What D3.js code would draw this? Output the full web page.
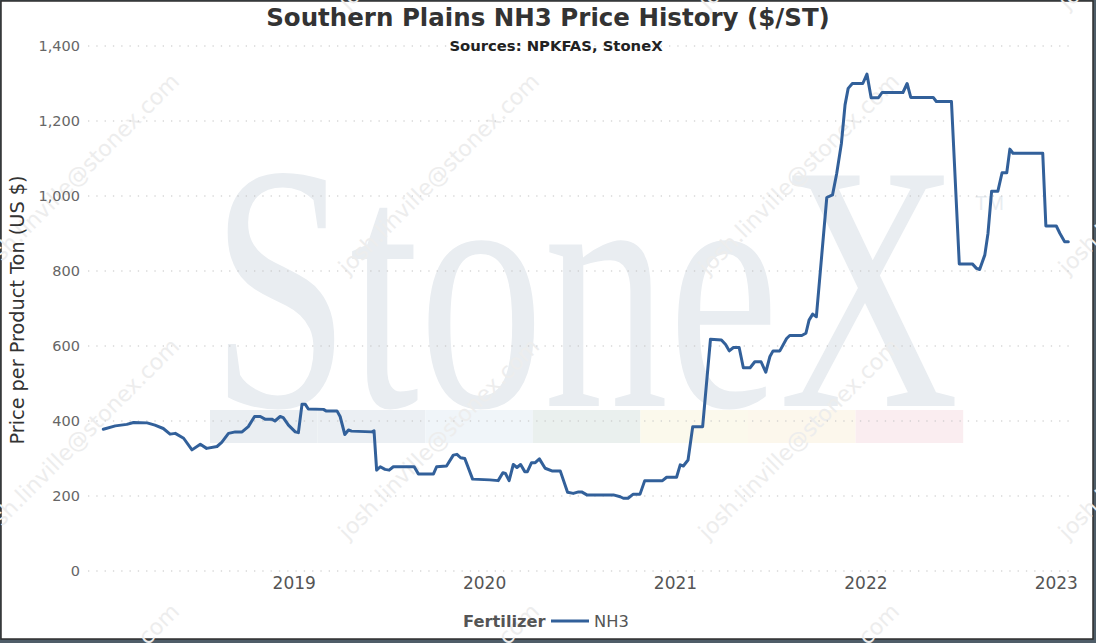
<!DOCTYPE html>
<html>
<head>
<meta charset="utf-8">
<script src="https://cdn.jsdelivr.net/npm/d3@7"></script>
<style>
  html, body { margin: 0; padding: 0; background: #4f5d68; }
  svg { display: block; }
</style>
</head>
<body>
<div id="chart"></div>
<script>
// NH3 price, Southern Plains, $/short ton
const dates = [
  "2018-01-01","2018-01-24","2018-02-15","2018-02-28","2018-03-26","2018-04-10","2018-04-26","2018-05-09","2018-05-19","2018-06-04",
  "2018-06-20","2018-07-06","2018-07-18","2018-08-07","2018-08-16","2018-08-29","2018-09-11","2018-09-24","2018-10-06","2018-10-18",
  "2018-10-29","2018-11-07","2018-11-20","2018-11-26","2018-12-06","2018-12-12","2018-12-22",
  "2019-01-04","2019-01-10","2019-01-17","2019-01-23","2019-01-29","2019-02-27","2019-03-04","2019-03-25","2019-03-31","2019-04-09",
  "2019-04-16","2019-04-22","2019-05-31","2019-06-04","2019-06-09","2019-06-16","2019-06-25","2019-07-03","2019-07-11","2019-08-20",
  "2019-08-28","2019-09-26","2019-10-02","2019-10-21","2019-11-03","2019-11-10","2019-11-17","2019-11-25","2019-12-10",
  "2020-01-12","2020-01-28","2020-02-06","2020-02-11","2020-02-18","2020-02-26","2020-03-04","2020-03-11","2020-03-19","2020-03-24",
  "2020-04-01","2020-04-08","2020-04-16","2020-04-27","2020-05-10","2020-05-26","2020-06-09","2020-06-20","2020-06-30","2020-07-06",
  "2020-07-16","2020-09-05","2020-09-18","2020-09-24","2020-10-03","2020-10-13","2020-10-26","2020-11-04","2020-12-08","2020-12-16",
  "2021-01-04","2021-01-11","2021-01-17","2021-01-26","2021-02-04","2021-02-23","2021-03-10","2021-03-31","2021-04-08","2021-04-15",
  "2021-04-23","2021-05-04","2021-05-12","2021-05-25","2021-06-03","2021-06-15","2021-06-24","2021-07-02","2021-07-08","2021-07-21",
  "2021-08-03","2021-08-09","2021-09-01","2021-09-09","2021-09-15","2021-09-22","2021-09-29","2021-10-19","2021-10-30","2021-11-07",
  "2021-11-16","2021-11-23","2021-11-29","2021-12-07","2021-12-27",
  "2022-01-04","2022-01-12","2022-01-26","2022-02-02","2022-03-14","2022-03-22","2022-03-29","2022-05-11","2022-05-17","2022-06-15",
  "2022-06-30","2022-07-25","2022-08-02","2022-08-08","2022-08-18","2022-08-24","2022-08-31","2022-09-12","2022-09-20","2022-09-29",
  "2022-10-05","2022-10-11","2022-12-07","2022-12-13",
  "2023-01-02","2023-01-09","2023-01-18","2023-01-25"
];
const nh3 = [
  378,387,391,396,395,389,380,365,367,354,
  323,338,327,332,343,367,371,371,385,412,
  412,405,405,400,412,409,389,
  371,369,445,445,432,431,427,427,412,364,
  376,373,371,374,269,278,271,269,278,278,
  259,259,278,280,309,311,302,300,245,
  243,241,262,260,241,284,276,284,265,265,
  289,289,299,274,267,267,210,207,211,211,
  203,203,198,194,194,205,205,241,241,250,
  250,283,280,296,385,385,618,616,604,587,
  596,596,542,542,558,558,530,572,587,587,
  620,628,628,634,669,685,678,996,1003,1060,
  1140,1243,1287,1300,1300,
  1325,1262,1262,1276,1276,1300,1263,1263,1252,1252,
  819,819,807,804,843,900,1013,1013,1062,1062,
  1125,1114,1114,920,
  920,900,878,878
];
const yTicks = [0, 200, 400, 600, 800, 1000, 1200, 1400];
const xTickYears = ["2019", "2020", "2021", "2022", "2023"];
const seriesName = "NH3";

const parse = d3.timeParse("%Y-%m-%d");
const data = dates.map((d, i) => ({ date: parse(d), value: nh3[i] }));

const w = 1096, h = 643;
const font = "'DejaVu Sans', Verdana, sans-serif";
const lineColor = "#32609a";

const svg = d3.select("#chart").append("svg")
  .attr("width", w).attr("height", h)
  .attr("viewBox", `0 0 ${w} ${h}`);

// frame
svg.append("rect")
  .attr("x", 1).attr("y", 1).attr("width", w - 4).attr("height", h - 5)
  .attr("fill", "#fff").attr("stroke", "#2e2e2e").attr("stroke-width", 1.5);

// scales
const xScale = d3.scaleTime()
  .domain(d3.extent(data, d => d.date))
  .range([103.3, 1068.3]);
const yScale = d3.scaleLinear()
  .domain([0, 1400])
  .range([571, 46]);

// ---- watermark (StoneX logo + diagonal email text)
const wm = svg.append("g").attr("pointer-events", "none");
const bandColors = ["#eaeef2", "#ebeff3", "#f0f5f9", "#eaf0ee", "#fbf9ec", "#fcf7ec", "#faedf0"];
wm.selectAll("rect.band").data(bandColors).enter().append("rect")
  .attr("class", "band")
  .attr("x", (d, i) => 210 + i * 107.6)
  .attr("y", 410).attr("width", 107.6).attr("height", 33)
  .attr("fill", d => d);
wm.append("text")
  .attr("x", 211).attr("y", 406)
  .attr("textLength", 748).attr("lengthAdjust", "spacingAndGlyphs")
  .attr("font-family", "'Liberation Serif', 'Times New Roman', serif")
  .attr("font-size", 352)
  .attr("fill", "#e9edf1")
  .text("StoneX");
wm.append("text")
  .attr("x", 975).attr("y", 210)
  .attr("font-family", "'Liberation Sans', Arial, sans-serif")
  .attr("font-size", 20)
  .attr("fill", "#e9edf1")
  .text("TM");

const wmCols = [80, 440, 800, 1160];
const wmRows = [-90, 175, 440, 705];
wmCols.forEach(cx => wmRows.forEach(cy => {
  wm.append("text")
    .attr("transform", `translate(${cx},${cy}) rotate(-45)`)
    .attr("text-anchor", "middle")
    .attr("dominant-baseline", "middle")
    .attr("font-family", font)
    .attr("font-size", 22)
    .attr("fill", "#ededed")
    .text("josh.linville@stonex.com");
}));

// ---- gridlines
svg.append("g").selectAll("line").data(yTicks).enter().append("line")
  .attr("x1", 88).attr("x2", 1072)
  .attr("y1", d => yScale(d)).attr("y2", d => yScale(d))
  .attr("stroke", "#c4c4c4").attr("stroke-width", 1.2)
  .attr("stroke-dasharray", "1.3,7");

// ---- y axis
const yAxis = d3.axisLeft(yScale).tickValues(yTicks).tickSize(0).tickPadding(0)
  .tickFormat(d3.format(","));
svg.append("g")
  .attr("transform", "translate(80,0)")
  .call(yAxis)
  .call(g => g.select(".domain").remove())
  .selectAll("text")
  .attr("font-family", font).attr("font-size", 14.5).attr("fill", "#666");

// ---- x axis
const xAxis = d3.axisBottom(xScale)
  .tickValues(xTickYears.map(y => parse(y + "-01-01")))
  .tickSize(0).tickPadding(0)
  .tickFormat(d3.timeFormat("%Y"));
svg.append("g")
  .attr("transform", "translate(0,577)")
  .call(xAxis)
  .call(g => g.select(".domain").remove())
  .selectAll("text")
  .attr("font-family", font).attr("font-size", 17).attr("fill", "#555");

// ---- line
const line = d3.line()
  .x(d => xScale(d.date))
  .y(d => yScale(d.value));
svg.append("path")
  .datum(data)
  .attr("d", line)
  .attr("fill", "none")
  .attr("stroke", lineColor)
  .attr("stroke-width", 3)
  .attr("stroke-linejoin", "round")
  .attr("stroke-linecap", "round");

// ---- titles
svg.append("text")
  .attr("x", 548).attr("y", 26)
  .attr("text-anchor", "middle")
  .attr("font-family", font).attr("font-weight", "bold").attr("font-size", 24.5)
  .attr("fill", "#333")
  .text("Southern Plains NH3 Price History ($/ST)");
svg.append("text")
  .attr("x", 556).attr("y", 51)
  .attr("text-anchor", "middle")
  .attr("font-family", font).attr("font-weight", "bold").attr("font-size", 14.8)
  .attr("fill", "#222")
  .text("Sources: NPKFAS, StoneX");
svg.append("text")
  .attr("transform", "translate(24,310) rotate(-90)")
  .attr("text-anchor", "middle")
  .attr("font-family", font).attr("font-size", 19.3)
  .attr("fill", "#333")
  .text("Price per Product Ton (US $)");

// ---- legend
const legend = svg.append("g").attr("transform", "translate(463,621)");
legend.append("text")
  .attr("x", 0).attr("y", 6)
  .attr("font-family", font).attr("font-weight", "bold").attr("font-size", 16.3)
  .attr("fill", "#555")
  .text("Fertilizer");
legend.append("line")
  .attr("x1", 88).attr("x2", 126).attr("y1", 0).attr("y2", 0)
  .attr("stroke", lineColor).attr("stroke-width", 3);
legend.append("text")
  .attr("x", 131).attr("y", 6)
  .attr("font-family", font).attr("font-size", 16.3)
  .attr("fill", "#555")
  .text(seriesName);
</script>
</body>
</html>
